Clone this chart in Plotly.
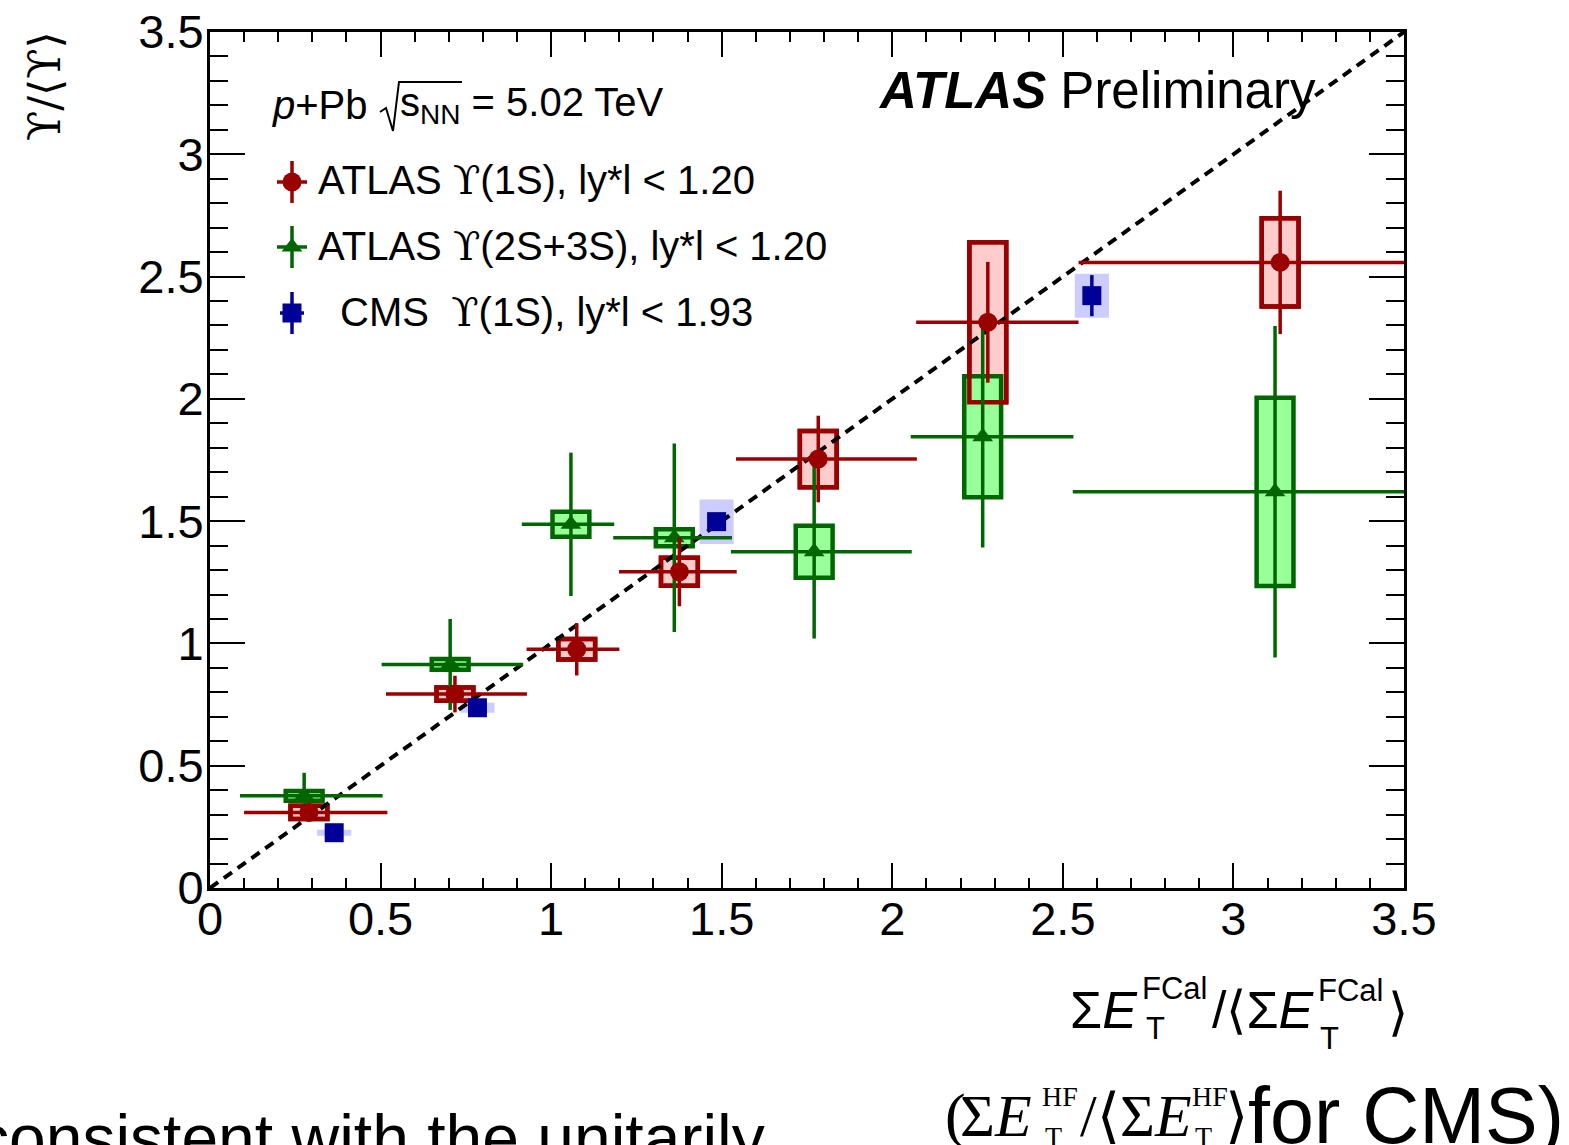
import plotly.graph_objects as go

# ---------------- data ----------------
# ATLAS Upsilon(1S), |y*| < 1.20
x_1s = [0.290, 0.718, 1.075, 1.376, 1.783, 2.280, 3.137]
x_1s_lo = [0.100, 0.516, 0.928, 1.199, 1.542, 2.070, 2.546]
x_1s_hi = [0.520, 0.929, 1.200, 1.544, 2.072, 2.546, 3.500]
y_1s = [0.309, 0.793, 0.976, 1.293, 1.754, 2.313, 2.558]
stat_1s = [0.030, 0.075, 0.107, 0.141, 0.177, 0.247, 0.293]
syst_1s = [0.027, 0.027, 0.042, 0.057, 0.115, 0.327, 0.180]

# ATLAS Upsilon(2S+3S), |y*| < 1.20
x_23s = [0.276, 0.704, 1.058, 1.361, 1.771, 2.265, 3.122]
x_23s_lo = [0.088, 0.503, 0.914, 1.182, 1.527, 2.054, 2.529]
x_23s_hi = [0.506, 0.918, 1.185, 1.530, 2.057, 2.531, 3.500]
y_23s = [0.377, 0.914, 1.487, 1.432, 1.375, 1.845, 1.620]
stat_23s = [0.094, 0.186, 0.293, 0.385, 0.355, 0.453, 0.678]
syst_23s = [0.020, 0.022, 0.051, 0.035, 0.106, 0.247, 0.385]

# CMS Upsilon(1S), |y*| < 1.93
x_cms = [0.364, 0.784, 1.485, 2.585]
y_cms = [0.226, 0.737, 1.498, 2.422]
stat_cms = [0.010, 0.015, 0.035, 0.084]
syst_cms = [0.012, 0.020, 0.091, 0.090]

# unity reference line
unity = [0.0, 3.5]

x_tick_vals = [0, 0.5, 1, 1.5, 2, 2.5, 3, 3.5]
x_tick_text = ["0", "0.5", "1", "1.5", "2", "2.5", "3", "3.5"]
y_tick_vals = [0, 0.5, 1, 1.5, 2, 2.5, 3, 3.5]
y_tick_text = ["0", "0.5", "1", "1.5", "2", "2.5", "3", "3.5"]

# ---------------- style ----------------
RED, RED_FILL = "#990000", "#ffcccc"
GREEN, GREEN_FILL = "#006600", "#99ff99"
BLUE, BLUE_FILL = "#000099", "#ccccff"
SANS = "Liberation Sans, Arial, sans-serif"
SERIF = "DejaVu Serif, Liberation Serif, serif"
TSERIF = "Liberation Serif, DejaVu Serif, serif"
ATLAS_BOX_HALF = 0.054
CMS_BOX_HALF = 0.050
BAR_W = 3.5

W, H = 1569, 1145
X0, X1, Y0, Y1 = 210, 1404, 888, 32  # plot frame in pixels


def px(x):
    return (x - X0) / (X1 - X0)


def py(y):
    return (Y0 - y) / (Y0 - Y1)


fig = go.Figure()


def add_boxes(xs, ys, syst, half, line, fill, lw):
    for x, y, s in zip(xs, ys, syst):
        fig.add_shape(type="rect", xref="x", yref="y", layer="below",
                      x0=x - half, x1=x + half, y0=y - s, y1=y + s,
                      line=dict(color=line, width=lw), fillcolor=fill)


add_boxes(x_cms, y_cms, syst_cms, CMS_BOX_HALF, BLUE_FILL, BLUE_FILL, 0)
add_boxes(x_1s, y_1s, syst_1s, ATLAS_BOX_HALF, RED, RED_FILL, 4.5)
add_boxes(x_23s, y_23s, syst_23s, ATLAS_BOX_HALF, GREEN, GREEN_FILL, 4.5)
add_boxes(x_1s, y_1s, syst_1s, ATLAS_BOX_HALF, RED, "rgba(0,0,0,0)", 4.5)

fig.add_trace(go.Scatter(x=unity, y=unity, mode="lines", hoverinfo="skip",
                         line=dict(color="black", width=4, dash="10px,7px")))


def add_points(xs, ys, stat, lo, hi, color, symbol, size):
    ex = dict(type="data", symmetric=False, color=color, thickness=BAR_W, width=0,
              array=[h - x for x, h in zip(xs, hi)],
              arrayminus=[x - l for x, l in zip(xs, lo)]) if lo else None
    fig.add_trace(go.Scatter(
        x=xs, y=ys, mode="markers",
        marker=dict(color=color, symbol=symbol, size=size, line=dict(width=0)),
        error_y=dict(type="data", array=stat, color=color, thickness=BAR_W, width=0),
        error_x=ex))


add_points(x_23s, y_23s, stat_23s, x_23s_lo, x_23s_hi, GREEN, "triangle-up", 18)
add_points(x_1s, y_1s, stat_1s, x_1s_lo, x_1s_hi, RED, "circle", 19)
add_points(x_cms, y_cms, stat_cms, None, None, BLUE, "square", 19)

# legend keys, drawn on a pixel-scaled overlay
for (kx, ky, col, sym, sz, hx) in [(292, 182, RED, "circle", 19, 15),
                                   (292, 247, GREEN, "triangle-up", 18, 15),
                                   (292, 313, BLUE, "square", 19, 12)]:
    fig.add_trace(go.Scatter(
        x=[kx], y=[ky], xaxis="x2", yaxis="y2", mode="markers",
        marker=dict(color=col, symbol=sym, size=sz),
        error_y=dict(type="constant", value=21, color=col, thickness=BAR_W, width=0),
        error_x=dict(type="constant", value=hx, color=col, thickness=BAR_W, width=0)))

annotations = []


def txt(text, x, y, size, family=SANS, xanchor="left", yanchor="middle", angle=0):
    annotations.append(dict(text=text, x=px(x), y=py(y), xref="paper", yref="paper",
                            xanchor=xanchor, yanchor=yanchor, showarrow=False,
                            textangle=angle, font=dict(family=family, size=size, color="black")))


UPS = '<span style="font-family:DejaVu Serif">ϒ</span>'

# labels inside the frame
txt("<b><i>ATLAS</i></b> Preliminary", 876, 90, 51)
txt("<i>p</i>+Pb", 270, 105, 40)
txt("s<sub>NN</sub> = 5.02 TeV", 398, 105, 40)
txt("ATLAS " + UPS + "(1S), ly*l &lt; 1.20", 316, 180, 40)
txt("ATLAS " + UPS + "(2S+3S), ly*l &lt; 1.20", 316, 246, 40)
txt("CMS  " + UPS + "(1S), ly*l &lt; 1.93", 338, 312, 40)

# y-axis title
txt("ϒ/⟨ϒ⟩", 45, 86, 44, family=SERIF, xanchor="center", angle=-90)

# x-axis title
txt("Σ<i>E</i>", 1068, 1010, 52)
txt("FCal", 1140, 988, 31)
txt("T", 1144, 1028, 31)
txt("/⟨Σ<i>E</i>", 1210, 1010, 52)
txt("FCal", 1316, 990, 31)
txt("T", 1318, 1038, 31)
txt("⟩", 1386, 1012, 52)

# CMS variable
txt("(", 943, 1116, 62, family=TSERIF)
txt("Σ<i>E</i>", 958, 1116, 60, family=TSERIF)
txt("HF", 1040, 1096, 28, family=TSERIF)
txt("T", 1043, 1136, 28, family=TSERIF)
txt("/⟨Σ<i>E</i>", 1078, 1116, 60, family=TSERIF)
txt("HF", 1190, 1096, 28, family=TSERIF)
txt("T", 1193, 1136, 28, family=TSERIF)
txt("⟩", 1223, 1116, 60, family=TSERIF)
txt("for CMS)", 1246, 1115, 79)

# running text below the figure
txt("consistent with the unitarily", 767, 1138, 66, xanchor="right")

# square-root sign
rad = [(380, 112), (386, 108), (393, 131), (399, 82), (462, 82)]
path = "M " + " L ".join(f"{px(a):.5f},{py(b):.5f}" for a, b in rad)
fig.add_shape(type="path", xref="paper", yref="paper", path=path,
              line=dict(color="black", width=2))

axis_common = dict(showline=True, linecolor="black", linewidth=3, mirror="allticks",
                   ticks="inside", tickwidth=2, tickcolor="black", showgrid=False,
                   zeroline=False, tickmode="array", automargin=False,
                   tickfont=dict(family=SANS, size=47, color="black"))

fig.update_layout(
    width=W, height=H, showlegend=False,
    paper_bgcolor="white", plot_bgcolor="white",
    margin=dict(l=X0, r=W - X1, t=Y1, b=H - Y0, pad=0, autoexpand=False),
    annotations=annotations,
    xaxis=dict(range=[0, 3.5], tickvals=x_tick_vals, ticktext=x_tick_text, ticklen=25,
               ticklabelstandoff=-12,
               minor=dict(tickmode="linear", tick0=0, dtick=0.1, ticks="inside",
                          ticklen=10, tickwidth=2, tickcolor="black", showgrid=False),
               **axis_common),
    yaxis=dict(range=[0, 3.5], tickvals=y_tick_vals, ticktext=y_tick_text, ticklen=35,
               ticklabelstandoff=-6,
               minor=dict(tickmode="linear", tick0=0, dtick=0.1, ticks="inside",
                          ticklen=18, tickwidth=2, tickcolor="black", showgrid=False),
               **axis_common),
    xaxis2=dict(overlaying="x", range=[X0, X1], visible=False, automargin=False),
    yaxis2=dict(overlaying="y", range=[Y0, Y1], visible=False, automargin=False),
)

fig.write_html("out.html")
